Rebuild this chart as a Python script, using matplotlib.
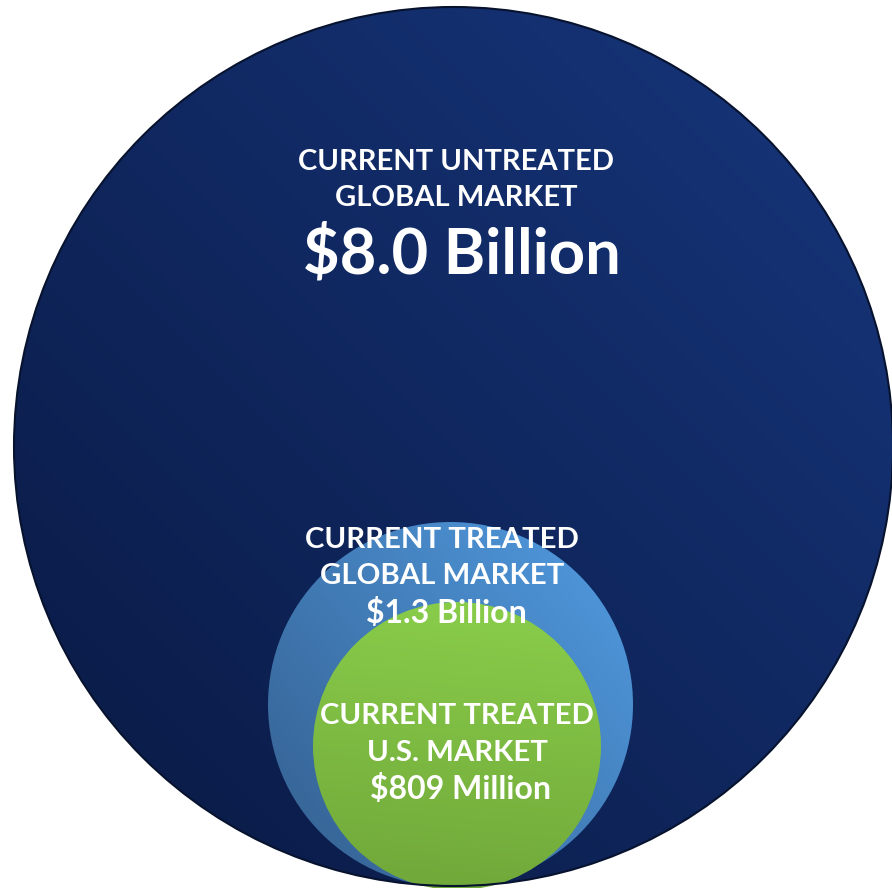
import numpy as np
import matplotlib.pyplot as plt
from matplotlib.patches import Circle
from matplotlib.colors import LinearSegmentedColormap

plt.rcParams['font.family'] = ['Lato', 'DejaVu Sans']

# market data
titles = [['CURRENT UNTREATED', 'GLOBAL MARKET'],
          ['CURRENT TREATED', 'GLOBAL MARKET'],
          ['CURRENT TREATED', 'U.S. MARKET']]
values = ['$8.0 Billion', '$1.3 Billion', '$809 Million']

# layout (pixel coords): circle centre x, centre y, radius
circles = [(453.5, 446.5, 439.5), (450.5, 704.5, 182.5), (457, 746, 144)]
# gradient colours (light, dark) and angle of the light side
grads = [('#153274', '#0b1d4b', 45), ('#4d93d6', '#38679a', 40), ('#89cc4a', '#71a93a', 85)]
# title lines: x, [y per line], font size
title_pos = [(456, [162, 198], 21), (442, [540, 576], 21.2), (457, [716, 752.5], 21.2)]
# value: x, y, font size
value_pos = [(462, 255, 45.5), (446, 613, 23), (461, 789, 23)]

W, H = 892, 888
fig = plt.figure(figsize=(W/100, H/100), dpi=100)
ax = fig.add_axes([0, 0, 1, 1])
ax.set_xlim(0, W)
ax.set_ylim(H, 0)
ax.axis('off')

for (cx, cy, r), (c1, c2, ang) in zip(circles, grads):
    n = 300
    xs = np.linspace(-1, 1, n)
    X, Y = np.meshgrid(xs, xs)
    a = np.deg2rad(ang)
    g = (X*np.cos(a) - Y*np.sin(a) + 1.414) / 2.828
    cmap = LinearSegmentedColormap.from_list('g', [c2, c1])
    im = ax.imshow(g, cmap=cmap, extent=(cx-r, cx+r, cy+r, cy-r), origin='upper',
                   vmin=0.15, vmax=0.85, interpolation='bilinear', zorder=1)
    circ = Circle((cx, cy), r, facecolor='none', edgecolor='none')
    ax.add_patch(circ)
    im.set_clip_path(circ)

# thin dark outline on the big circle
cx, cy, r = circles[0]
ax.add_patch(Circle((cx, cy), r, facecolor='none', edgecolor='#07132e', lw=1.5, zorder=2))

for lines, (x, ys, fs) in zip(titles, title_pos):
    for line, y in zip(lines, ys):
        ax.text(x, y, line, color='white', fontsize=fs, fontweight='bold',
                ha='center', va='center', zorder=5)
for v, (x, y, fs) in zip(values, value_pos):
    ax.text(x, y, v, color='white', fontsize=fs, fontweight='bold', ha='center', va='center', zorder=5)

fig.savefig('out.png', dpi=100)
